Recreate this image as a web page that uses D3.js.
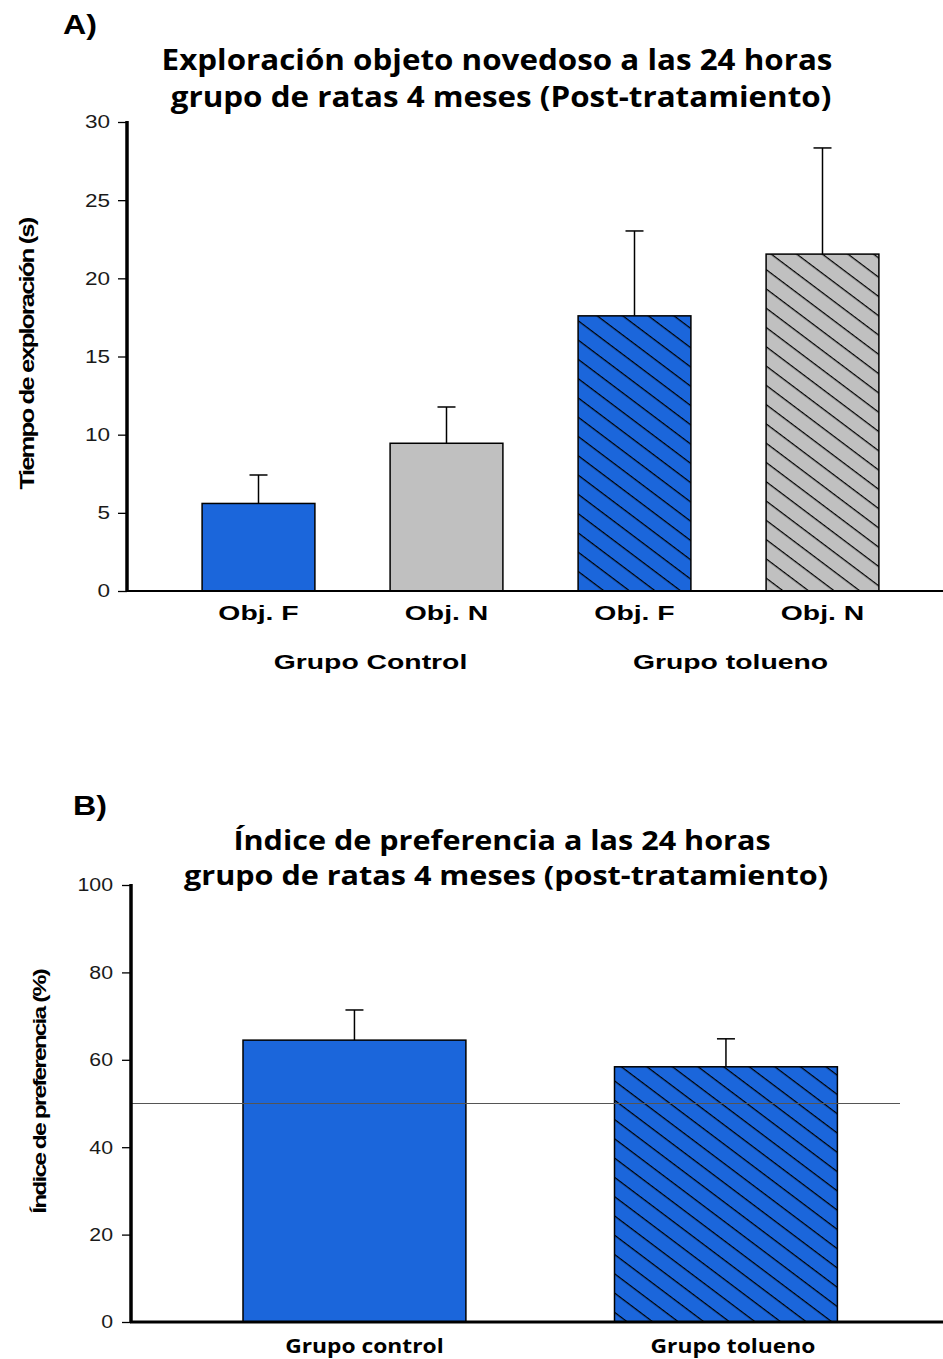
<!DOCTYPE html>
<html>
<head>
<meta charset="utf-8">
<script src="https://cdn.jsdelivr.net/npm/d3@7"></script>
<style>
  html, body { margin: 0; padding: 0; background: #fff; }
  svg { display: block; }
  .tick text { font-family: "Liberation Sans", Arial, sans-serif; font-size: 18.5px; fill: #1a1a1a; }
</style>
</head>
<body>
<svg id="chart" width="943" height="1359"></svg>
<script>
// Panel A: exploration time per object
const categoriesA = ["Obj. F", "Obj. N", "Obj. F", "Obj. N"];
const groupLabelsA = ["Grupo Control", "Grupo tolueno"];
const meansA = [5.6, 9.45, 17.6, 21.55];
const errorsA = [1.82, 2.32, 5.43, 6.79];
const fillsA = ["blue", "gray", "blue", "gray"];
const hatchedA = [false, false, true, true];
const ticksA = [0, 5, 10, 15, 20, 25, 30];

// Panel B: preference index
const categoriesB = ["Grupo control", "Grupo tolueno"];
const meansB = [64.5, 58.4];
const errorsB = [6.9, 6.4];
const hatchedB = [false, true];
const ticksB = [0, 20, 40, 60, 80, 100];
const chanceLevel = 50;

const colors = { blue: "#1b66db", gray: "#c0c0c0" };

// text in this figure is drawn slightly wide
const SX = 1.35;

const svg = d3.select("#chart");
const defs = svg.append("defs");

// diagonal hatch patterns
function hatch(id, bg) {
  const p = defs.append("pattern")
    .attr("id", id)
    .attr("patternUnits", "userSpaceOnUse")
    .attr("width", 10).attr("height", 15.4)
    .attr("patternTransform", "rotate(37)");
  p.append("rect").attr("width", 10).attr("height", 15.4).attr("fill", bg);
  p.append("line").attr("x1", 0).attr("x2", 10).attr("y1", 0.6).attr("y2", 0.6)
    .attr("stroke", "#000").attr("stroke-width", 1.3);
}
hatch("hatch-blue", colors.blue);
hatch("hatch-gray", colors.gray);

const titleFont = "'Open Sans', 'DejaVu Sans', sans-serif";
const labelFont = "'Liberation Sans', Arial, sans-serif";

function wideText(g, x, y, sx, str, opts) {
  const t = g.append("text")
    .attr("transform", `translate(${x},${y}) scale(${sx},1)`)
    .attr("text-anchor", opts.anchor || "middle")
    .attr("font-family", opts.family || labelFont)
    .attr("font-weight", "bold")
    .attr("font-size", opts.size)
    .text(str);
  return t;
}

function errorBars(g, data, x, y, capW) {
  const eg = g.append("g").attr("stroke", "#000").attr("stroke-width", 1.5).attr("fill", "none");
  data.forEach(d => {
    const cx = x(d.i) + x.bandwidth() / 2;
    eg.append("line").attr("x1", cx).attr("x2", cx).attr("y1", y(d.m)).attr("y2", y(d.m + d.e));
    eg.append("line").attr("x1", cx - capW / 2).attr("x2", cx + capW / 2)
      .attr("y1", y(d.m + d.e)).attr("y2", y(d.m + d.e));
  });
}

function styleYAxis(ax, tickSize, pad, sx) {
  ax.select(".domain").remove();
  ax.selectAll(".tick line").attr("stroke", "#000").attr("stroke-width", 1.3);
  ax.selectAll(".tick text")
    .attr("x", 0)
    .attr("transform", `translate(${-(tickSize + pad)},0) scale(${sx},1)`);
}

// ---------- Panel A ----------
{
  const g = svg.append("g");
  const y = d3.scaleLinear().domain([0, 30]).range([591, 122]);
  const x = d3.scaleBand().domain(d3.range(categoriesA.length))
    .range([164.5, 916.5]).paddingInner(0.4).paddingOuter(0.2);
  const data = meansA.map((m, i) => ({ i, m, e: errorsA[i], fill: fillsA[i], hatched: hatchedA[i] }));

  wideText(g, 63, 34, 1.15, "A)", { size: 28, anchor: "start" });

  wideText(g, 497, 70, 1.12, "Exploración objeto novedoso a las 24 horas", { size: 28, family: titleFont });
  wideText(g, 501, 107, 1.12, "grupo de ratas 4 meses (Post-tratamiento)", { size: 28, family: titleFont });

  // bars
  g.append("g").selectAll("rect").data(data).join("rect")
    .attr("x", d => x(d.i)).attr("width", x.bandwidth())
    .attr("y", d => y(d.m)).attr("height", d => y(0) - y(d.m))
    .attr("fill", d => d.hatched ? `url(#hatch-${d.fill})` : colors[d.fill])
    .attr("stroke", "#000").attr("stroke-width", 1.5);

  errorBars(g, data, x, y, 18);

  // y axis
  const ya = g.append("g").attr("transform", "translate(127,0)")
    .call(d3.axisLeft(y).tickValues(ticksA).tickSize(9).tickPadding(8));
  styleYAxis(ya, 9, 8, 1.22);
  g.append("line").attr("x1", 127).attr("x2", 127).attr("y1", 121).attr("y2", 592)
    .attr("stroke", "#000").attr("stroke-width", 3.5);
  g.append("line").attr("x1", 126).attr("x2", 943).attr("y1", 591).attr("y2", 591)
    .attr("stroke", "#000").attr("stroke-width", 2.2);

  // category labels
  data.forEach(d => {
    wideText(g, x(d.i) + x.bandwidth() / 2, 620, SX, categoriesA[d.i], { size: 21 });
  });

  const groupOffsets = [18, 2];
  groupLabelsA.forEach((lab, k) => {
    const cx = (x(2 * k) + x(2 * k + 1) + x.bandwidth()) / 2 + groupOffsets[k];
    wideText(g, cx, 669, SX, lab, { size: 21 });
  });

  g.append("text")
    .attr("transform", "translate(34,354) rotate(-90) scale(1.29,1)")
    .attr("text-anchor", "middle").attr("font-family", labelFont)
    .attr("font-weight", "bold").attr("font-size", 20).attr("letter-spacing", -1.5)
    .text("Tiempo de exploración (s)");
}

// ---------- Panel B ----------
{
  const g = svg.append("g");
  const y = d3.scaleLinear().domain([0, 100]).range([1322, 885]);
  const x = d3.scaleBand().domain(d3.range(categoriesB.length))
    .range([168.7, 911.7]).paddingInner(0.4).paddingOuter(0.2);
  const data = meansB.map((m, i) => ({ i, m, e: errorsB[i], hatched: hatchedB[i] }));

  wideText(g, 73, 815, 1.15, "B)", { size: 28, anchor: "start" });

  wideText(g, 502, 850, 1.12, "Índice de preferencia a las 24 horas", { size: 27.3, family: titleFont });
  wideText(g, 506, 885, 1.12, "grupo de ratas 4 meses (post-tratamiento)", { size: 27.3, family: titleFont });

  g.append("g").selectAll("rect").data(data).join("rect")
    .attr("x", d => x(d.i)).attr("width", x.bandwidth())
    .attr("y", d => y(d.m)).attr("height", d => y(0) - y(d.m))
    .attr("fill", d => d.hatched ? "url(#hatch-blue)" : colors.blue)
    .attr("stroke", "#000").attr("stroke-width", 1.5);

  errorBars(g, data, x, y, 18);

  // 50% reference line
  g.append("line").attr("x1", 131).attr("x2", 900)
    .attr("y1", y(chanceLevel)).attr("y2", y(chanceLevel))
    .attr("stroke", "#555").attr("stroke-width", 1);

  const ya = g.append("g").attr("transform", "translate(131,0)")
    .call(d3.axisLeft(y).tickValues(ticksB).tickSize(9).tickPadding(9));
  styleYAxis(ya, 9, 9, 1.15);
  g.append("line").attr("x1", 131).attr("x2", 131).attr("y1", 884).attr("y2", 1323)
    .attr("stroke", "#000").attr("stroke-width", 3.5);
  g.append("line").attr("x1", 130).attr("x2", 943).attr("y1", 1322).attr("y2", 1322)
    .attr("stroke", "#000").attr("stroke-width", 3.2);

  const labOffsets = [10, 7];
  data.forEach(d => {
    wideText(g, x(d.i) + x.bandwidth() / 2 + labOffsets[d.i], 1353, 1.2, categoriesB[d.i],
      { size: 19, family: titleFont });
  });

  g.append("text")
    .attr("transform", "translate(46,1092) rotate(-90) scale(1.3,1)")
    .attr("text-anchor", "middle").attr("font-family", labelFont)
    .attr("font-weight", "bold").attr("font-size", 19).attr("letter-spacing", -1.5)
    .text("Índice de preferencia (%)");
}
</script>
</body>
</html>
